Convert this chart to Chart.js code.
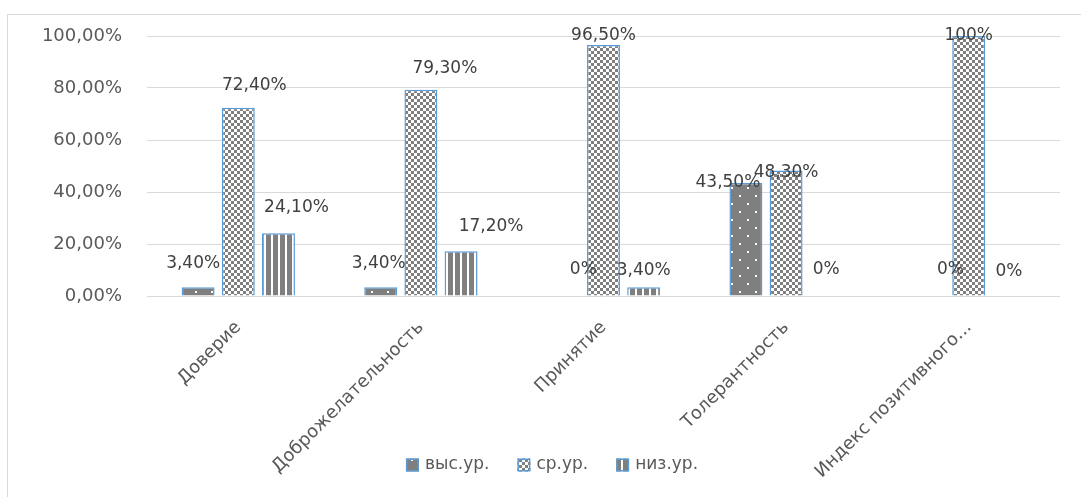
<!doctype html>
<html lang="ru">
<head>
<meta charset="UTF-8">
<title>Уровни показателей</title>
<script src="https://cdn.jsdelivr.net/npm/chart.js"></script>
<style>
    body { margin: 0; background: #fff; }
    .frame {
        position: absolute; left: 7px; top: 14px;
        width: 1100px; height: 500px;
        border: 1px solid #d9d9d9;
    }
    #levelsChart { position: absolute; left: 0; top: 0; }
</style>
</head>
<body>
<div class="frame"></div>
<canvas id="levelsChart" width="1081" height="497"></canvas>

<script>
const categories = ['Доверие', 'Доброжелательность', 'Принятие', 'Толерантность', 'Индекс позитивного...'];
const seriesNames = ['выс.ур.', 'ср.ур.', 'низ.ур.'];
const highLevel = [3.4, 3.4, 0, 43.5, 0];
const midLevel = [72.4, 79.3, 96.5, 48.3, 100];
const lowLevel = [24.1, 17.2, 3.4, 0, 0];
const yTicks = [0, 20, 40, 60, 80, 100];

const GRAY = '#7f7f7f';
const EDGE = '#5b9bd5';
const FONT = '"DejaVu Sans", sans-serif';

const canvas = document.getElementById('levelsChart');
const ctx = canvas.getContext('2d');

// hatch fills like the office chart patterns
function makePattern(kind) {
    const tile = document.createElement('canvas');
    const g = tile.getContext('2d');
    if (kind === 'dots') {
        tile.width = 16; tile.height = 16;
        g.fillStyle = GRAY; g.fillRect(0, 0, 16, 16);
        g.fillStyle = '#fff';
        g.fillRect(3, 3, 2, 2);
        g.fillRect(11, 11, 2, 2);
    } else if (kind === 'check') {
        tile.width = 6; tile.height = 6;
        g.fillStyle = '#fff'; g.fillRect(0, 0, 6, 6);
        g.fillStyle = GRAY;
        g.fillRect(0, 0, 3, 3);
        g.fillRect(3, 3, 3, 3);
    } else {
        tile.width = 7; tile.height = 7;
        g.fillStyle = '#fff'; g.fillRect(0, 0, 7, 7);
        g.fillStyle = GRAY; g.fillRect(0, 0, 5, 7);
    }
    return ctx.createPattern(tile, 'repeat');
}

const fills = [makePattern('dots'), makePattern('check'), makePattern('stripes')];

function fmtAxis(v) {
    return v.toFixed(2).replace('.', ',') + '%';
}
function fmtValue(v) {
    if (v === 0 || v === 100) return v + '%';
    return v.toFixed(2).replace('.', ',') + '%';
}

// nudges for labels that sit off-centre: "series:category" -> [dx, dy]
const labelShift = {
    '0:0': [-5, 0], '1:0': [16, 2], '2:0': [18, -2],
    '0:1': [-2, 0], '1:1': [24, 3], '2:1': [30, -1],
    '0:2': [20, -2], '2:2': [0, 7],
    '0:3': [-18, 24], '1:3': [0, 26], '2:3': [0, -2],
    '0:4': [22, -2]
};

const valueLabels = {
    id: 'valueLabels',
    afterDatasetsDraw(chart) {
        const c = chart.ctx;
        const top = chart.chartArea.top;
        c.save();
        c.font = '17px ' + FONT;
        c.fillStyle = '#404040';
        c.textAlign = 'center';
        c.textBaseline = 'middle';
        chart.data.datasets.forEach((ds, i) => {
            chart.getDatasetMeta(i).data.forEach((bar, j) => {
                const s = labelShift[i + ':' + j] || [0, 0];
                const y = Math.max(bar.y - 24, top) + s[1];
                c.fillText(fmtValue(ds.data[j]), bar.x + s[0], y);
            });
        });
        c.restore();
    }
};

// legend row drawn over the bottom of the x axis, as the rotated labels run under it
const bottomLegend = {
    id: 'bottomLegend',
    afterDraw(chart) {
        const c = chart.ctx;
        const box = 13, gap = 6, spacing = 28;
        const cy = 465, cx = 552;
        c.save();
        c.font = '17px ' + FONT;
        c.textBaseline = 'middle';
        const widths = seriesNames.map(n => box + gap + c.measureText(n).width);
        const total = widths.reduce((a, b) => a + b, 0) + spacing * (widths.length - 1);
        let x = cx - total / 2;
        chart.data.datasets.forEach((ds, i) => {
            c.fillStyle = ds.backgroundColor;
            c.fillRect(x, cy - box / 2, box, box);
            c.strokeStyle = EDGE;
            c.lineWidth = 1.5;
            c.strokeRect(x + 0.75, cy - box / 2 + 0.75, box - 1.5, box - 1.5);
            c.fillStyle = '#595959';
            c.fillText(ds.label, x + box + gap, cy);
            x += widths[i] + spacing;
        });
        c.restore();
    }
};

Chart.defaults.font.family = FONT;
Chart.defaults.color = '#595959';

const seriesData = [highLevel, midLevel, lowLevel];

new Chart(ctx, {
    type: 'bar',
    data: {
        labels: categories,
        datasets: seriesData.map((vals, i) => ({
            label: seriesNames[i],
            data: vals,
            backgroundColor: fills[i],
            borderColor: EDGE,
            borderWidth: c => (c.raw === 0 ? 0 : 1.5),
            categoryPercentage: 0.66,
            barPercentage: 0.82
        }))
    },
    options: {
        responsive: false,
        animation: false,
        layout: { padding: { top: 36, right: 21, bottom: 0, left: 40 } },
        scales: {
            x: {
                grid: { display: false },
                border: { display: false },
                ticks: {
                    maxRotation: 45,
                    minRotation: 45,
                    padding: 13,
                    font: { size: 18 },
                    color: '#595959'
                },
                afterFit: s => { s.height = 201; }
            },
            y: {
                min: 0,
                max: 100,
                afterBuildTicks: s => { s.ticks = yTicks.map(v => ({ value: v })); },
                ticks: {
                    padding: 25,
                    font: { size: 18 },
                    color: '#595959',
                    callback: v => fmtAxis(v)
                },
                grid: { color: '#d9d9d9', drawTicks: false },
                border: { display: false },
                afterFit: s => { s.width = 107; }
            }
        },
        plugins: {
            legend: { display: false },
            tooltip: { enabled: false }
        }
    },
    plugins: [valueLabels, bottomLegend]
});
</script>
</body>
</html>
